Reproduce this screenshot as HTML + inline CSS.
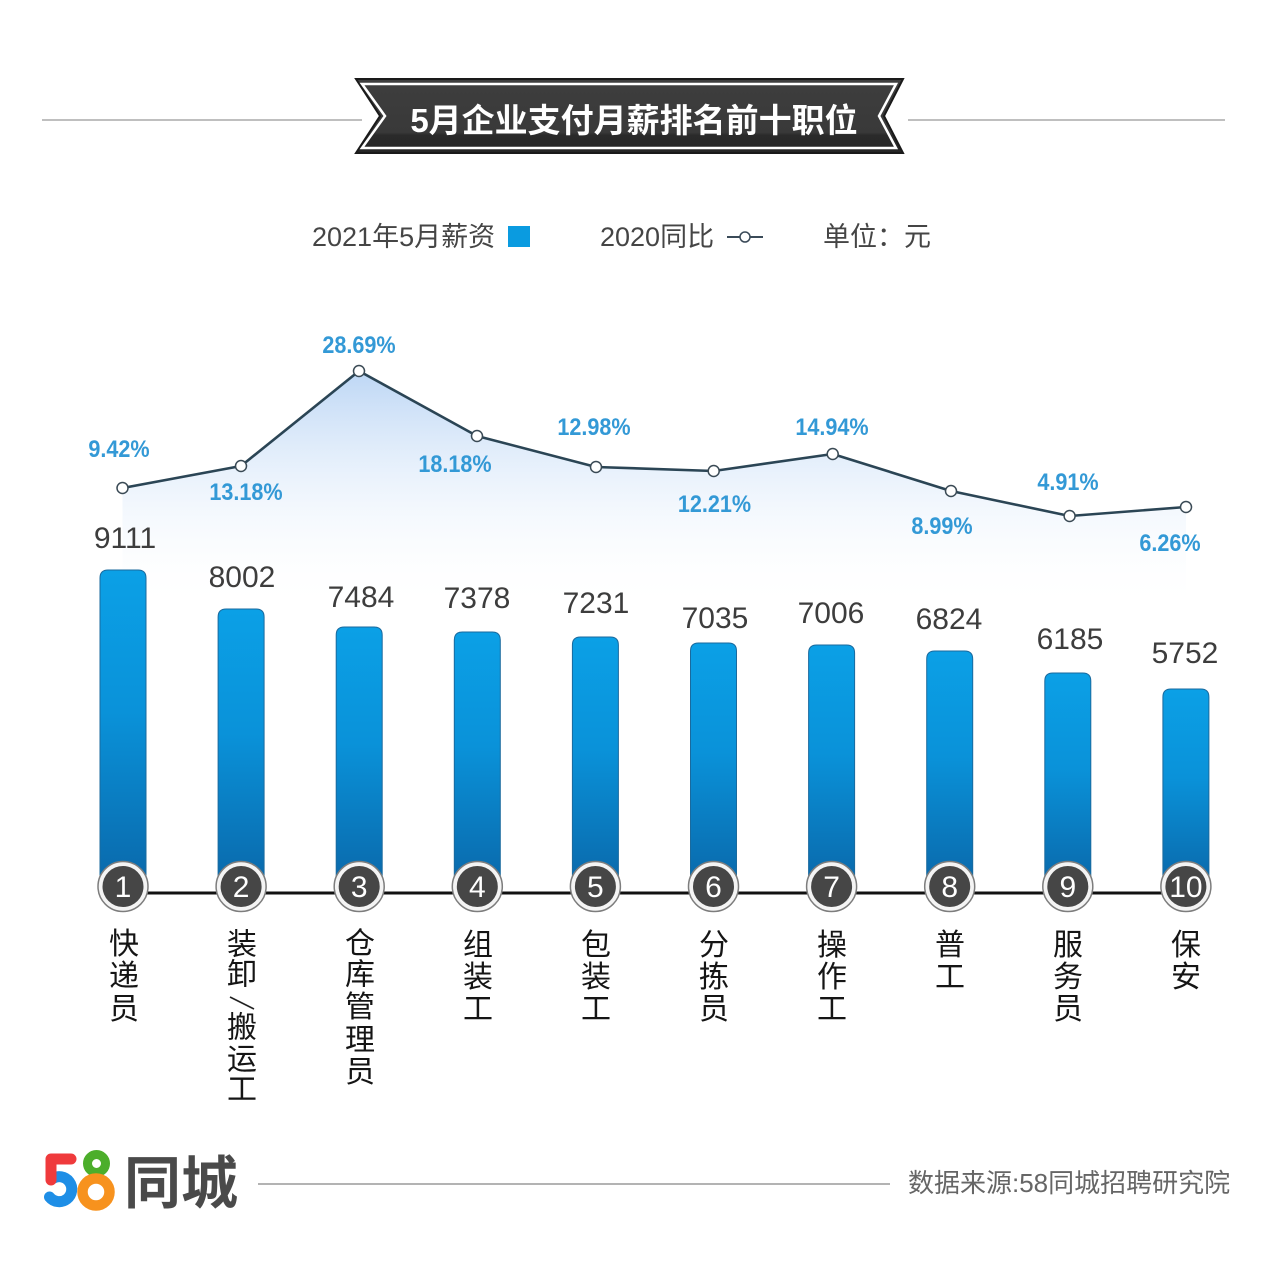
<!DOCTYPE html>
<html>
<head>
<meta charset="utf-8">
<style>
html,body{margin:0;padding:0;background:#fff;}
svg{display:block;}
.cjk{font-family:"Liberation Sans","Noto Sans CJK SC",sans-serif;}
</style>
</head>
<body>
<svg width="1269" height="1280" viewBox="0 0 1269 1280" xmlns="http://www.w3.org/2000/svg">
<defs>
  <linearGradient id="barg" x1="0" y1="0" x2="0" y2="1">
    <stop offset="0" stop-color="#0ba0e6"/>
    <stop offset="0.45" stop-color="#0a92d9"/>
    <stop offset="1" stop-color="#0a68aa"/>
  </linearGradient>
  <linearGradient id="areag" gradientUnits="userSpaceOnUse" x1="0" y1="370" x2="0" y2="610">
    <stop offset="0" stop-color="#b9d4f4" stop-opacity="0.95"/>
    <stop offset="0.35" stop-color="#d6e6f9" stop-opacity="0.7"/>
    <stop offset="1" stop-color="#ffffff" stop-opacity="0"/>
  </linearGradient>
  <linearGradient id="bang" x1="0" y1="0" x2="0" y2="1">
    <stop offset="0" stop-color="#3e3e3e"/>
    <stop offset="0.72" stop-color="#393939"/>
    <stop offset="0.76" stop-color="#2a2a2a"/>
    <stop offset="1" stop-color="#252525"/>
  </linearGradient>
</defs>

<!-- title lines -->
<line x1="42" y1="120" x2="362" y2="120" stroke="#aaaaaa" stroke-width="1.5"/>
<line x1="908" y1="120" x2="1225" y2="120" stroke="#aaaaaa" stroke-width="1.5"/>

<!-- banner -->
<polygon points="356,79 903,79 884,116 903,153 356,153 380,116" fill="url(#bang)" stroke="#1a1a1a" stroke-width="2"/>
<polygon points="362,84 896,84 879,116 896,148 362,148 385,116" fill="none" stroke="#ffffff" stroke-width="2.5"/>
<text x="634" y="132" text-anchor="middle" class="cjk" font-size="33" font-weight="bold" fill="#ffffff">5月企业支付月薪排名前十职位</text>

<!-- legend -->
<text x="312" y="246" class="cjk" font-size="27" fill="#454545">2021年5月薪资</text>
<rect x="508" y="226" width="22" height="21" fill="#0a9be0"/>
<text x="600" y="246" class="cjk" font-size="27" fill="#454545">2020同比</text>
<line x1="727" y1="237" x2="763" y2="237" stroke="#3a4a58" stroke-width="2"/>
<circle cx="745" cy="237" r="5" fill="#fff" stroke="#3a4a58" stroke-width="1.5"/>
<text x="823" y="246" class="cjk" font-size="27" fill="#454545">单位：元</text>

<!-- area under line -->
<polygon points="122.5,488 241,466 359,371 477,436 596,467 713.7,471 832.7,454 951,491 1069.6,516 1186,507 1186,610 122.5,610" fill="url(#areag)"/>

<!-- bars -->
<g fill="url(#barg)" stroke="#1a6a9e" stroke-width="1">
  <path d="M100,886 V578 Q100,570 108,570 H138 Q146,570 146,578 V886 Z"/>
  <path d="M218.1,886 V617 Q218.1,609 226.1,609 H256.1 Q264.1,609 264.1,617 V886 Z"/>
  <path d="M336.2,886 V635 Q336.2,627 344.2,627 H374.2 Q382.2,627 382.2,635 V886 Z"/>
  <path d="M454.3,886 V640 Q454.3,632 462.3,632 H492.3 Q500.3,632 500.3,640 V886 Z"/>
  <path d="M572.4,886 V645 Q572.4,637 580.4,637 H610.4 Q618.4,637 618.4,645 V886 Z"/>
  <path d="M690.5,886 V651 Q690.5,643 698.5,643 H728.5 Q736.5,643 736.5,651 V886 Z"/>
  <path d="M808.6,886 V653 Q808.6,645 816.6,645 H846.6 Q854.6,645 854.6,653 V886 Z"/>
  <path d="M926.7,886 V659 Q926.7,651 934.7,651 H964.7 Q972.7,651 972.7,659 V886 Z"/>
  <path d="M1044.8,886 V681 Q1044.8,673 1052.8,673 H1082.8 Q1090.8,673 1090.8,681 V886 Z"/>
  <path d="M1162.9,886 V697 Q1162.9,689 1170.9,689 H1200.9 Q1208.9,689 1208.9,697 V886 Z"/>
</g>

<!-- value labels -->
<g font-family="Liberation Sans, sans-serif" font-size="30" fill="#3d3d3d" text-anchor="middle">
  <text x="125" y="548">9111</text>
  <text x="242" y="587">8002</text>
  <text x="361" y="607">7484</text>
  <text x="477" y="608">7378</text>
  <text x="596" y="613">7231</text>
  <text x="715" y="628">7035</text>
  <text x="831" y="623">7006</text>
  <text x="949" y="629">6824</text>
  <text x="1070" y="649">6185</text>
  <text x="1185" y="663">5752</text>
</g>

<!-- line -->
<polyline points="122.5,488 241,466 359,371 477,436 596,467 713.7,471 832.7,454 951,491 1069.6,516 1186,507" fill="none" stroke="#2b4555" stroke-width="2.6" stroke-linejoin="round"/>
<g fill="#fff" stroke="#3a4a55" stroke-width="1.5">
  <circle cx="122.5" cy="488" r="5.5"/>
  <circle cx="241" cy="466" r="5.5"/>
  <circle cx="359" cy="371" r="5.5"/>
  <circle cx="477" cy="436" r="5.5"/>
  <circle cx="596" cy="467" r="5.5"/>
  <circle cx="713.7" cy="471" r="5.5"/>
  <circle cx="832.7" cy="454" r="5.5"/>
  <circle cx="951" cy="491" r="5.5"/>
  <circle cx="1069.6" cy="516" r="5.5"/>
  <circle cx="1186" cy="507" r="5.5"/>
</g>

<!-- percent labels -->
<g font-family="Liberation Sans, sans-serif" font-size="24" font-weight="bold" fill="#3399d6" text-anchor="middle">
  <text transform="translate(119,457) scale(0.9,1)">9.42%</text>
  <text transform="translate(246,500) scale(0.9,1)">13.18%</text>
  <text transform="translate(359,353) scale(0.9,1)">28.69%</text>
  <text transform="translate(455,472) scale(0.9,1)">18.18%</text>
  <text transform="translate(594,435) scale(0.9,1)">12.98%</text>
  <text transform="translate(714.5,512) scale(0.9,1)">12.21%</text>
  <text transform="translate(832,435) scale(0.9,1)">14.94%</text>
  <text transform="translate(942,534) scale(0.9,1)">8.99%</text>
  <text transform="translate(1068,490) scale(0.9,1)">4.91%</text>
  <text transform="translate(1170,551) scale(0.9,1)">6.26%</text>
</g>

<!-- baseline -->
<line x1="123" y1="893" x2="1186" y2="893" stroke="#111" stroke-width="3"/>

<!-- rank circles -->
<g>
  <g stroke="#7d7d7d" stroke-width="1.5" fill="#f4f4f4">
    <circle cx="123" cy="886.5" r="25"/>
    <circle cx="241.1" cy="886.5" r="25"/>
    <circle cx="359.2" cy="886.5" r="25"/>
    <circle cx="477.3" cy="886.5" r="25"/>
    <circle cx="595.4" cy="886.5" r="25"/>
    <circle cx="713.5" cy="886.5" r="25"/>
    <circle cx="831.6" cy="886.5" r="25"/>
    <circle cx="949.7" cy="886.5" r="25"/>
    <circle cx="1067.8" cy="886.5" r="25"/>
    <circle cx="1185.9" cy="886.5" r="25"/>
  </g>
  <g fill="#464646">
    <circle cx="123" cy="886.5" r="20.5"/>
    <circle cx="241.1" cy="886.5" r="20.5"/>
    <circle cx="359.2" cy="886.5" r="20.5"/>
    <circle cx="477.3" cy="886.5" r="20.5"/>
    <circle cx="595.4" cy="886.5" r="20.5"/>
    <circle cx="713.5" cy="886.5" r="20.5"/>
    <circle cx="831.6" cy="886.5" r="20.5"/>
    <circle cx="949.7" cy="886.5" r="20.5"/>
    <circle cx="1067.8" cy="886.5" r="20.5"/>
    <circle cx="1185.9" cy="886.5" r="20.5"/>
  </g>
  <g font-family="Liberation Sans, sans-serif" font-size="30" fill="#ffffff" text-anchor="middle">
    <text x="123" y="897">1</text>
    <text x="241.1" y="897">2</text>
    <text x="359.2" y="897">3</text>
    <text x="477.3" y="897">4</text>
    <text x="595.4" y="897">5</text>
    <text x="713.5" y="897">6</text>
    <text x="831.6" y="897">7</text>
    <text x="949.7" y="897">8</text>
    <text x="1067.8" y="897">9</text>
    <text x="1185.9" y="897">10</text>
  </g>
</g>

<!-- category labels (vertical) -->
<g class="cjk" font-size="30" fill="#151515" text-anchor="middle">
  <text x="124" y="954">快</text><text x="124" y="986">递</text><text x="124" y="1019">员</text>

  <text x="242" y="954.5">装</text><text x="242" y="984.5">卸</text>
  <text x="242" y="1037.5">搬</text><text x="242" y="1069.5">运</text><text x="242" y="1099.5">工</text>

  <text x="360" y="953.5">仓</text><text x="360" y="984.5">库</text><text x="360" y="1017">管</text><text x="360" y="1050">理</text><text x="360" y="1082">员</text>

  <text x="478" y="955">组</text><text x="478" y="987">装</text><text x="478" y="1019">工</text>
  <text x="596" y="955">包</text><text x="596" y="987">装</text><text x="596" y="1019">工</text>
  <text x="714" y="955">分</text><text x="714" y="987">拣</text><text x="714" y="1019">员</text>
  <text x="832" y="955">操</text><text x="832" y="987">作</text><text x="832" y="1019">工</text>
  <text x="950" y="955">普</text><text x="950" y="987">工</text>
  <text x="1068" y="955">服</text><text x="1068" y="987">务</text><text x="1068" y="1019">员</text>
  <text x="1186" y="955">保</text><text x="1186" y="987">安</text>
</g>
<line x1="230" y1="997" x2="254" y2="1009" stroke="#222" stroke-width="1.6"/>

<!-- footer logo -->
<path d="M52,1179 A12.5,12.5 0 1 1 49.5,1197" fill="none" stroke="#1e8ee6" stroke-width="11" stroke-linecap="round"/>
<path d="M51,1180 V1159 H71" fill="none" stroke="#ef3a3c" stroke-width="11" stroke-linecap="round" stroke-linejoin="round"/>
<circle cx="96.5" cy="1163.5" r="9" fill="none" stroke="#4cae2b" stroke-width="9"/>
<circle cx="96" cy="1192" r="13.5" fill="none" stroke="#f7921e" stroke-width="10.5"/>
<text x="124" y="1203" class="cjk" font-size="57" font-weight="bold" fill="#4a4a4a">同城</text>

<line x1="258" y1="1184" x2="890" y2="1184" stroke="#9a9a9a" stroke-width="1.5"/>
<text x="908" y="1192" class="cjk" font-size="26" fill="#666666">数据来源:58同城招聘研究院</text>
</svg>
</body>
</html>
